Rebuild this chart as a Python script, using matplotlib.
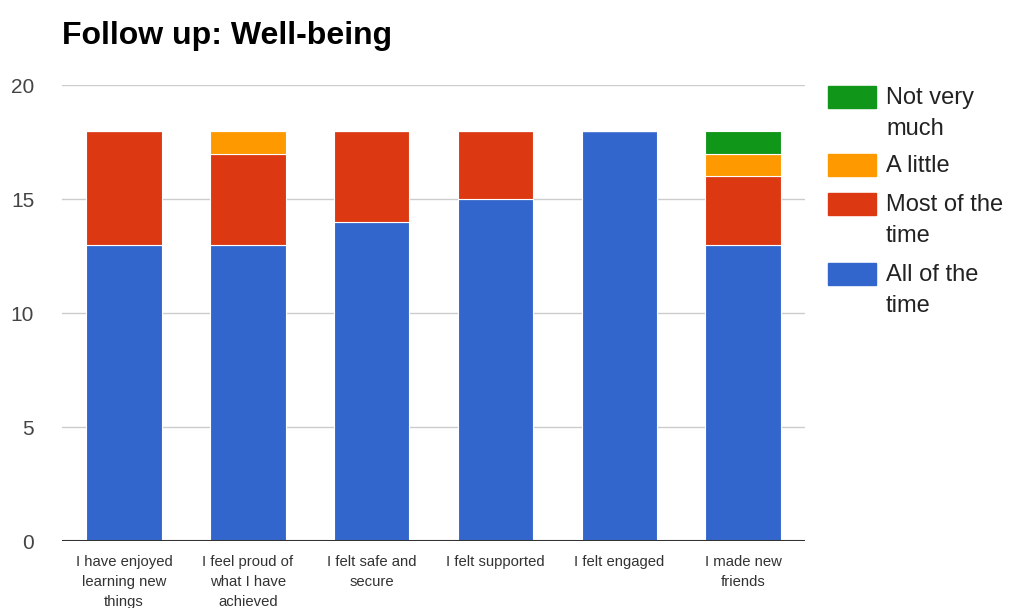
import matplotlib.pyplot as plt
from matplotlib.patches import Rectangle
import numpy as np

plt.rcParams['font.family'] = ['Liberation Sans', 'DejaVu Sans']

categories = ['I have enjoyed\nlearning new\nthings', 'I feel proud of\nwhat I have\nachieved',
              'I felt safe and\nsecure', 'I felt supported', 'I felt engaged',
              'I made new\nfriends']
all_time = [13, 13, 14, 15, 18, 13]
most_time = [5, 4, 4, 3, 0, 3]
a_little = [0, 1, 0, 0, 0, 1]
not_much = [0, 0, 0, 0, 0, 1]

series = [('All of the\ntime', all_time, '#3366cc'),
          ('Most of the\ntime', most_time, '#dc3912'),
          ('A little', a_little, '#ff9900'),
          ('Not very\nmuch', not_much, '#109618')]

fig = plt.figure(figsize=(10.09, 6.08), dpi=100)
ax = fig.add_axes([0.0614, 0.110, 0.7366, 0.750])

x = np.arange(len(categories))
bottom = np.zeros(len(categories))
for name, vals, col in series:
    vals = np.array(vals, dtype=float)
    ax.bar(x, vals, bottom=bottom, width=0.61, color=col, edgecolor='white',
           linewidth=0.8, zorder=3)
    bottom += vals

ax.set_ylim(0, 20)
ax.set_xlim(-0.5, len(categories) - 0.5)
ax.set_yticks([0, 5, 10, 15, 20])
ax.yaxis.grid(True, color='#cccccc', linewidth=1, zorder=0)
ax.axhline(0, color='#333333', linewidth=1.5, zorder=4)
for s in ax.spines.values():
    s.set_visible(False)
ax.tick_params(axis='y', length=0, pad=20, labelsize=15, labelcolor='#444444')
ax.tick_params(axis='x', length=0, pad=10, labelsize=10.7, labelcolor='#333333')
ax.set_xticks(x)
ax.set_xticklabels(categories, linespacing=1.55, va='top')

fig.text(0.0614, 0.941, 'Follow up: Well-being', fontsize=23, fontweight='bold',
         color='black', va='center', ha='left')

# legend (Google Charts style, box aligned with first line)
leg_y = [97, 165, 204, 274]
for (name, vals, col), yy in zip(series[::-1], leg_y):
    fig.patches.append(Rectangle((828 / 1009, 1 - (yy + 11) / 608), 48 / 1009, 22 / 608,
                                 transform=fig.transFigure, color=col, figure=fig))
    fig.text(886 / 1009, 1 - (yy - 10) / 608, name, fontsize=17, color='#222222',
             va='top', ha='left', linespacing=1.53)

fig.savefig('out.png', dpi=100)
